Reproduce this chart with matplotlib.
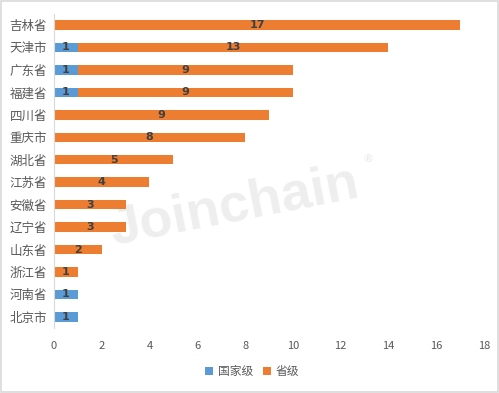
import matplotlib.pyplot as plt
from matplotlib.patches import Rectangle

plt.rcParams['font.family'] = ['Noto Sans CJK SC', 'DejaVu Sans']

provinces = ['吉林省', '天津市', '广东省', '福建省', '四川省', '重庆市', '湖北省',
             '江苏省', '安徽省', '辽宁省', '山东省', '浙江省', '河南省', '北京市']
national = [0, 1, 1, 1, 0, 0, 0, 0, 0, 0, 0, 0, 1, 1]
provincial = [17, 13, 9, 9, 9, 8, 5, 4, 3, 3, 2, 1, 0, 0]
xticks = [0, 2, 4, 6, 8, 10, 12, 14, 16, 18]

blue = '#5B9BD5'
orange = '#ED7D31'

fig = plt.figure(figsize=(4.99, 3.93), dpi=100)
ax = fig.add_axes([0.108, 0.165, 0.862, 0.80])
ax.patch.set_alpha(0)

y = list(range(len(provinces)))
b1 = ax.barh(y, national, height=0.42, color=blue, label='国家级')
b2 = ax.barh(y, provincial, left=national, height=0.42, color=orange, label='省级')

for bars in (b1, b2):
    for rect in bars:
        w = rect.get_width()
        if w > 0:
            ax.text(rect.get_x() + w / 2, rect.get_y() + rect.get_height() / 2,
                    f'{int(w)}', ha='center', va='center', fontsize=8,
                    fontweight='bold', color='#404040', family='DejaVu Sans')

ax.set_yticks(y)
ax.set_yticklabels(provinces, fontsize=9, color='#595959')
ax.set_ylim(len(provinces) - 0.5, -0.5)
ax.set_xlim(0, 18)
ax.set_xticks(xticks)
ax.set_xticklabels([str(t) for t in xticks], fontsize=8, color='#595959')
ax.tick_params(length=0)
ax.tick_params(axis='x', pad=9)
ax.tick_params(axis='y', pad=5)
for s in ['top', 'right', 'bottom']:
    ax.spines[s].set_visible(False)
ax.spines['left'].set_color('#D9D9D9')

# watermark, behind the bars
fig.text(0.47, 0.475, 'Joinchain', fontsize=39, fontweight='bold', color='#EEEEEE',
         rotation=11, ha='center', va='center', family='Liberation Sans', zorder=-1)
fig.text(0.737, 0.595, '®', fontsize=8, color='#E8E8E8', ha='center', va='center',
         family='DejaVu Sans', zorder=-1)

fig.legend(handles=[b1, b2], loc='center', bbox_to_anchor=(0.505, 0.055), ncol=2,
           frameon=False, fontsize=8.5, handlelength=0.7, handleheight=0.7,
           columnspacing=0.8, handletextpad=0.4, labelcolor='#595959')

fig.patches.append(Rectangle((0.002, 0.002), 0.996, 0.995, transform=fig.transFigure,
                             fill=False, edgecolor='#D9D9D9', linewidth=1.2))

fig.savefig('out.png', dpi=100)
